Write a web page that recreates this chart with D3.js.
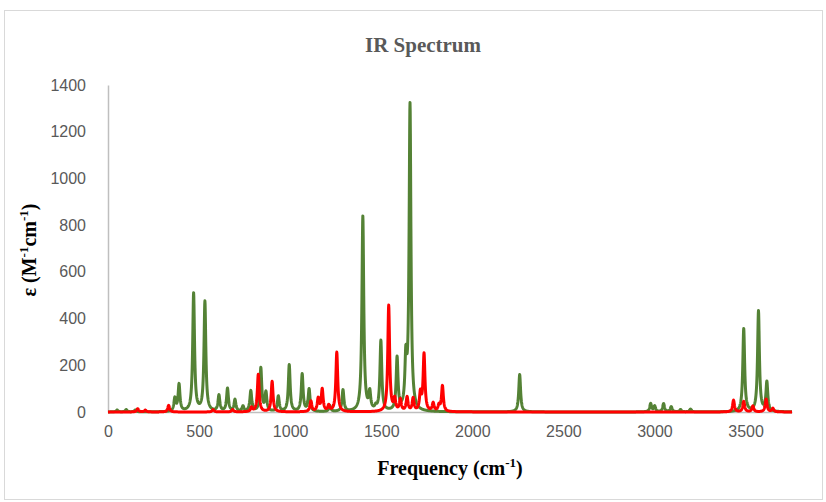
<!DOCTYPE html>
<html>
<head>
<meta charset="utf-8">
<script src="https://cdn.jsdelivr.net/npm/d3@7"></script>
<style>
  body { margin: 0; background: white; }
</style>
</head>
<body>
<div id="container"></div>
<script>
// IR spectrum, two computed spectra drawn as broadened peak lists

const width = 826;
const height = 502;

// green spectrum: peak positions (cm-1) and heights
const greenFreq = [50, 100, 150, 367, 390, 470, 532, 609, 656, 697, 741, 784, 839, 867, 935, 995, 1066, 1104, 1218, 1290, 1399, 1437, 1470, 1498, 1587, 1635, 1658, 2260, 2979, 3001, 3050, 3092, 3143, 3198, 3490, 3571, 3617];
const greenInt  = [8, 10, 8, 55, 115, 505, 470, 68, 98, 50, 22, 88, 185, 80, 65, 200, 160, 95, 25, 92, 835, 75, 15, 300, 225, 200, 1310, 160, 35, 24, 35, 22, 10, 12, 355, 430, 125];

// red spectrum
const redFreq = [163, 205, 333, 577, 684, 788, 825, 901, 1114, 1154, 1176, 1212, 1256, 1541, 1574, 1605, 1642, 1675, 1715, 1735, 1785, 1817, 1836, 3434, 3490, 3540, 3613, 3650];
const redInt  = [14, 8, 28, 10, 10, 18, 160, 130, 45, 55, 95, 25, 255, 455, 50, 50, 60, 55, 75, 245, 35, 25, 110, 50, 45, 25, 55, 15];

const xTicks = [0, 500, 1000, 1500, 2000, 2500, 3000, 3500];
const yTicks = [0, 200, 400, 600, 800, 1000, 1200, 1400];

const hwhm = 6;      // lorentzian half width, cm-1
const xMax = 3755;

const svg = d3.select("#container")
    .append("svg")
    .attr("width", width)
    .attr("height", height)
    .style("background-color", "white");

// chart frame
svg.append("rect")
    .attr("x", 4.5).attr("y", 10.5)
    .attr("width", 818).attr("height", 489)
    .attr("fill", "white")
    .attr("stroke", "#d9d9d9");

const x = d3.scaleLinear().domain([0, xMax]).range([108, 792]);
const y = d3.scaleLinear().domain([0, 1400]).range([412, 85]);

function spectrum(freqs, ints) {
    const pts = [];
    for (let f = 0; f <= xMax; f += 1) {
        let v = 0;
        freqs.forEach((c, i) => {
            const d = (f - c) / hwhm;
            v += ints[i] / (1 + d * d);
        });
        pts.push([f, v]);
    }
    return pts;
}

// axes
const xAxis = svg.append("g")
    .attr("transform", "translate(0,412)")
    .call(d3.axisBottom(x).tickValues(xTicks).tickFormat(d3.format("d")).tickSize(0).tickPadding(14));
xAxis.select(".domain").attr("stroke", "#bfbfbf").attr("stroke-width", 1.5);

const yAxis = svg.append("g")
    .attr("transform", "translate(108,0)")
    .call(d3.axisLeft(y).tickValues(yTicks).tickFormat(d3.format("d")).tickSize(0).tickPadding(22));
yAxis.select(".domain").attr("stroke", "#bfbfbf").attr("stroke-width", 1.5);

svg.selectAll(".tick text")
    .attr("fill", "#595959")
    .style("font-family", "Liberation Sans, Arial, sans-serif")
    .style("font-size", "16px");

const line = d3.line()
    .x(d => x(d[0]))
    .y(d => y(d[1]));

svg.append("path")
    .datum(spectrum(greenFreq, greenInt))
    .attr("fill", "none")
    .attr("stroke", "#548235")
    .attr("stroke-width", 3)
    .attr("stroke-linejoin", "round")
    .attr("d", line);

svg.append("path")
    .datum(spectrum(redFreq, redInt))
    .attr("fill", "none")
    .attr("stroke", "#ff0000")
    .attr("stroke-width", 3)
    .attr("stroke-linejoin", "round")
    .attr("d", line);

// title
svg.append("text")
    .attr("x", 423).attr("y", 52)
    .attr("text-anchor", "middle")
    .attr("fill", "#595959")
    .style("font-family", "Liberation Serif, Times New Roman, serif")
    .style("font-weight", "bold")
    .style("font-size", "21px")
    .text("IR Spectrum");

// x title
const xt = svg.append("text")
    .attr("x", 450).attr("y", 475)
    .attr("text-anchor", "middle")
    .attr("fill", "black")
    .style("font-family", "Liberation Serif, Times New Roman, serif")
    .style("font-weight", "bold")
    .style("font-size", "20px");
xt.append("tspan").text("Frequency (cm");
xt.append("tspan").attr("dy", -8).style("font-size", "13px").text("-1");
xt.append("tspan").attr("dy", 8).text(")");

// y title
const yt = svg.append("text")
    .attr("transform", "translate(36,250) rotate(-90)")
    .attr("text-anchor", "middle")
    .attr("fill", "black")
    .style("font-family", "Liberation Serif, Times New Roman, serif")
    .style("font-weight", "bold")
    .style("font-size", "20px");
yt.append("tspan").text("ε (M");
yt.append("tspan").attr("dy", -8).style("font-size", "13px").text("-1");
yt.append("tspan").attr("dy", 8).text("cm");
yt.append("tspan").attr("dy", -8).style("font-size", "13px").text("-1");
yt.append("tspan").attr("dy", 8).text(")");
</script>
</body>
</html>
